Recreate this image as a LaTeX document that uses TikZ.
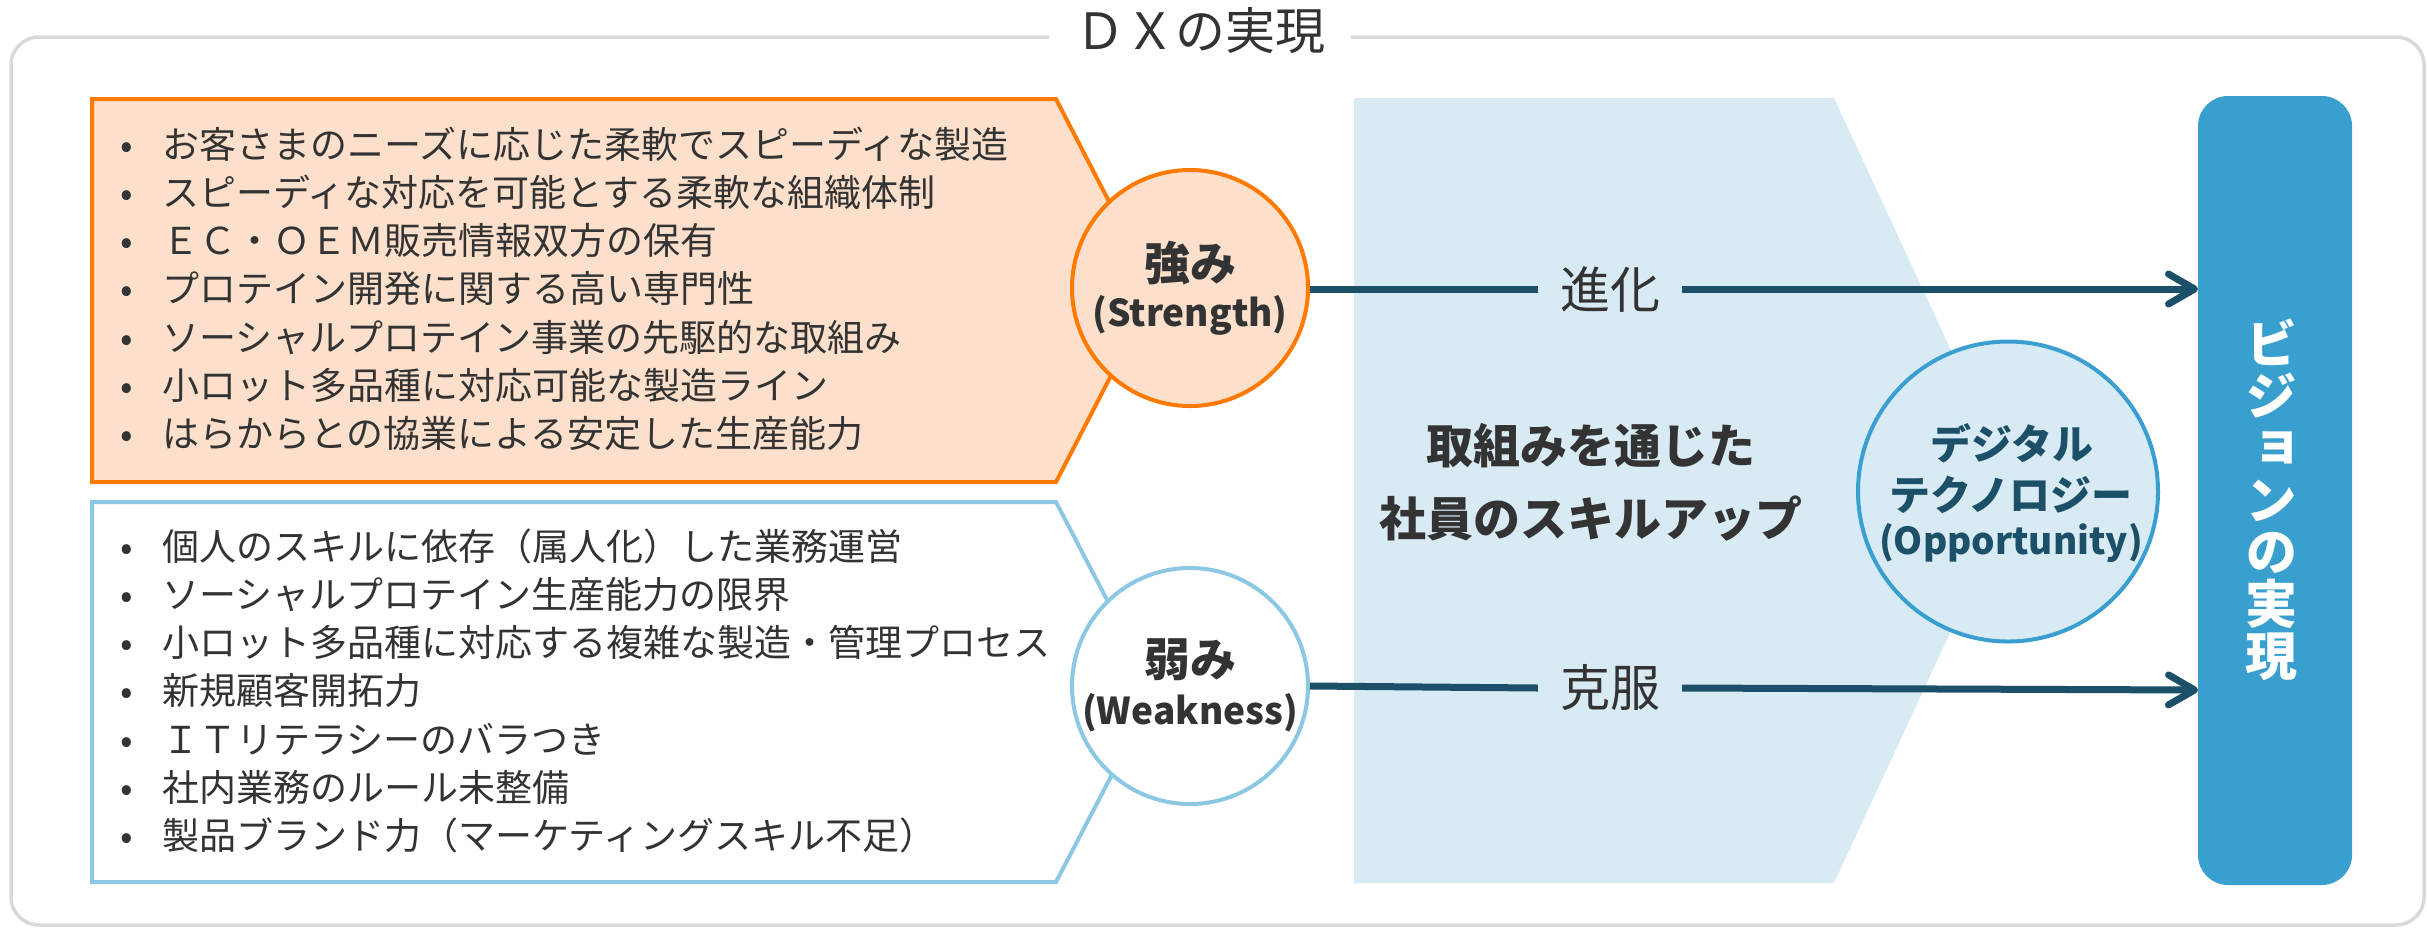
\documentclass[tikz,border=0pt]{standalone}
\usepackage{fontspec}
\setmainfont{Noto Sans CJK JP}
\newfontfamily\jpv[RawFeature=+vert]{Noto Sans CJK JP}
\usetikzlibrary{arrows.meta}
\definecolor{framegray}{HTML}{D9D9D9}
\definecolor{orangeline}{HTML}{FF7A00}
\definecolor{peach}{HTML}{FCE0CC}
\definecolor{lblue}{HTML}{8CC8E4}
\definecolor{chev}{HTML}{D8EBF5}
\definecolor{oppline}{HTML}{3A9FD0}
\definecolor{vis}{HTML}{389FCE}
\definecolor{arr}{HTML}{1C4F68}
\definecolor{txt}{HTML}{333333}
\begin{document}
\begin{tikzpicture}[x=1pt,y=-1pt,
  item/.style={anchor=base west, inner sep=0pt, text=txt, font=\fontsize{37}{44}\selectfont},
  swcircle/.style={circle, minimum size=236pt, line width=4pt, inner sep=0pt},
  headtxt/.style={text=txt, inner sep=0pt, font=\fontsize{46}{52}\selectfont\bfseries},
  subtxt/.style={text=txt, inner sep=0pt, font=\fontsize{37}{44}\selectfont\bfseries},
  midtxt/.style={text=txt, inner sep=0pt, font=\fontsize{47}{56}\selectfont\bfseries},
  arrlabel/.style={text=txt, inner xsep=22pt, inner ysep=0pt, font=\fontsize{50}{56}\selectfont},
  conn/.style={draw=arr, line width=7pt},
  tipped/.style={conn, -{Straight Barb[round, length=26pt, width=30pt]}},
  opptxt/.style={text=arr, inner sep=0pt, font=\fontsize{41}{48}\selectfont\bfseries}]
\useasboundingbox (0,0) rectangle (2427,930);
\fill[white] (0,0) rectangle (2427,930);

% outer frame
\draw[framegray, line width=3.5pt, rounded corners=28pt] (11,37) rectangle (2424,925);
\node[fill=white, text=txt, inner xsep=26pt, inner ysep=2pt, font=\fontsize{50}{56}\selectfont] (title) at (1200,31) {ＤＸの実現};

% chevron background
\fill[chev] (1354,98) -- (1834,98) -- (2016,490.5) -- (1834,883) -- (1354,883) -- cycle;

% strength / weakness boxes
\draw[orangeline, fill=peach, line width=4pt, line join=miter] (92,99) -- (1056,99) -- (1155,290.5) -- (1056,482) -- (92,482) -- cycle;
\draw[lblue, fill=white, line width=4pt, line join=miter] (92,502) -- (1056,502) -- (1155,692) -- (1056,882) -- (92,882) -- cycle;

\foreach \t [count=\i] in {お客さまのニーズに応じた柔軟でスピーディな製造,
  スピーディな対応を可能とする柔軟な組織体制,
  ＥＣ・ＯＥＭ販売情報双方の保有,
  プロテイン開発に関する高い専門性,
  ソーシャルプロテイン事業の先駆的な取組み,
  小ロット多品種に対応可能な製造ライン,
  はらからとの協業による安定した生産能力}
  {\node[item] (s\i) at (162,{109.7+48.3*\i}) {\llap{\makebox[70pt][c]{•}}\t};}

\foreach \t [count=\i] in {個人のスキルに依存（属人化）した業務運営,
  ソーシャルプロテイン生産能力の限界,
  小ロット多品種に対応する複雑な製造・管理プロセス,
  新規顧客開拓力,
  ＩＴリテラシーのバラつき,
  社内業務のルール未整備,
  製品ブランド力（マーケティングスキル不足）}
  {\node[item] (w\i) at (162,{511.7+48.3*\i}) {\llap{\makebox[70pt][c]{•}}\t};}

% circles
\node[swcircle, draw=orangeline, fill=peach] (S) at (1190,288) {};
\node[headtxt] (S1) at (1190,263) {強み};
\node[subtxt] (S2) at (1190,315) {(Strength)};
\node[swcircle, draw=lblue, fill=white] (W) at (1190,686) {};
\node[headtxt] (W1) at (1190,660) {弱み};
\node[subtxt] (W2) at (1190,713) {(Weakness)};

% middle text
\node[midtxt] (m1) at (1591,446) {取組みを通じた};
\node[midtxt] (m2) at (1591,519) {社員のスキルアップ};

% opportunity
\node[circle, minimum size=300pt, draw=oppline, fill=chev, line width=4pt, inner sep=0pt] (O) at (2008,491.5) {};
\node[opptxt] (o1) at (2012,443) {デジタル};
\node[opptxt] (o2) at (2011,495) {テクノロジー};
\node[opptxt, font=\fontsize{37}{44}\selectfont\bfseries] (o3) at (2011,543) {(Opportunity)};

% vision box
\node[fill=vis, rounded corners=30pt, minimum width=154pt, minimum height=789pt, inner sep=0pt] (V) at (2275,490.5) {};
\node[text=white, align=center, inner sep=0pt, font=\jpv\fontsize{52}{52}\selectfont\bfseries] (vt) at (2271,500) {ビ\\ジ\\ョ\\ン\\の\\実\\現};

% arrows
\coordinate (v1) at (2198,289);
\coordinate (v2) at (2198,690);
\node[arrlabel] (L1) at (1610,289) {進化};
\node[arrlabel] (L2) at (1610,688) {克服};
\draw[conn] (S.east |- L1.west) -- (L1.west);
\draw[tipped] (L1.east) -- (v1);
\draw[conn] (W.east) -- (L2.west);
\draw[tipped] (L2.east) -- (v2);
\end{tikzpicture}
\end{document}
